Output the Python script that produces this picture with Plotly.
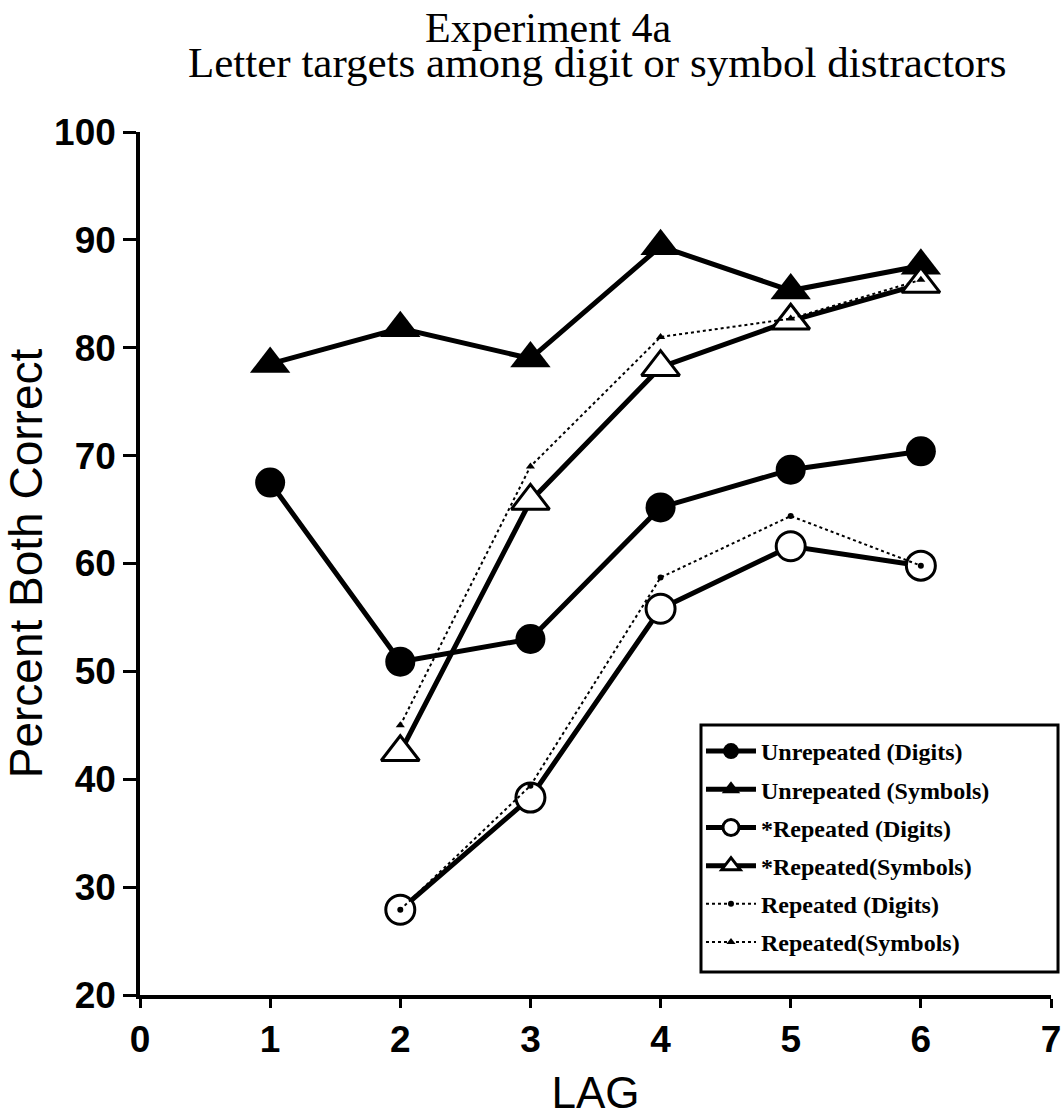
import plotly.graph_objects as go

lags = [1, 2, 3, 4, 5, 6]
lags_rep = [2, 3, 4, 5, 6]

unrep_digits = [67.5, 50.9, 53.0, 65.2, 68.7, 70.4]
unrep_symbols = [78.5, 81.8, 79.0, 89.4, 85.3, 87.6]
rep_star_digits = [27.9, 38.3, 55.8, 61.6, 59.8]
rep_star_symbols = [42.5, 65.8, 78.2, 82.5, 85.9]
rep_digits = [27.9, 39.4, 58.7, 64.4, 59.8]
rep_symbols = [45.0, 69.0, 81.0, 82.7, 86.3]

names = ["Unrepeated (Digits)", "Unrepeated (Symbols)", "*Repeated (Digits)",
         "*Repeated(Symbols)", "Repeated (Digits)", "Repeated(Symbols)"]

x_ticks = [0, 1, 2, 3, 4, 5, 6, 7]
y_ticks = [20, 30, 40, 50, 60, 70, 80, 90, 100]

fig = go.Figure()

fig.add_trace(go.Scatter(x=lags, y=unrep_digits, name=names[0], legendrank=1,
                         legendgroup="g1", mode="lines+markers",
                         line=dict(color="black", width=5),
                         marker=dict(symbol="circle", size=30, color="black")))
fig.add_trace(go.Scatter(x=lags, y=unrep_symbols, name=names[1], legendrank=2,
                         legendgroup="g2", mode="lines+markers",
                         line=dict(color="black", width=5),
                         marker=dict(symbol="triangle-up", size=35, color="black")))
fig.add_trace(go.Scatter(x=lags_rep, y=rep_star_digits, name=names[2], legendrank=3,
                         legendgroup="g3", mode="lines+markers",
                         line=dict(color="black", width=5),
                         marker=dict(symbol="circle", size=29, color="white",
                                     line=dict(color="black", width=3))))
fig.add_trace(go.Scatter(x=lags_rep, y=rep_star_symbols, name=names[3], legendrank=4,
                         legendgroup="g4", mode="lines+markers",
                         line=dict(color="black", width=5),
                         marker=dict(symbol="triangle-up", size=33, color="white",
                                     line=dict(color="black", width=3))))
# dotted series drawn on top
fig.add_trace(go.Scatter(x=lags_rep, y=rep_digits, name=names[4], legendrank=5,
                         legendgroup="g5", mode="lines+markers",
                         line=dict(color="black", width=2, dash="dot"),
                         marker=dict(symbol="circle", size=6, color="black")))
fig.add_trace(go.Scatter(x=lags_rep, y=rep_symbols, name=names[5], legendrank=6,
                         legendgroup="g6", mode="lines+markers",
                         line=dict(color="black", width=2, dash="dot"),
                         marker=dict(symbol="triangle-up", size=8, color="black")))

fig.add_annotation(text="Experiment 4a", xref="paper", yref="paper",
                   x=0.448, y=1.1205, xanchor="center", yanchor="middle",
                   showarrow=False,
                   font=dict(family="Liberation Serif", size=42, color="black"))
fig.add_annotation(text="Letter targets among digit or symbol distractors",
                   xref="paper", yref="paper",
                   x=0.502, y=1.0800, xanchor="center", yanchor="middle",
                   showarrow=False,
                   font=dict(family="Liberation Serif", size=43, color="black"))

# legend frame (page box ~701..1058 x 725..972)
fig.add_shape(type="rect", xref="paper", yref="paper",
              x0=0.6158, x1=1.0077, y0=0.0266, y1=0.3129,
              line=dict(color="black", width=3), fillcolor="rgba(0,0,0,0)", layer="above")

fig.update_layout(
    width=1063, height=1117,
    margin=dict(l=140, r=12, t=132, b=122, autoexpand=False),
    paper_bgcolor="white", plot_bgcolor="white",
    showlegend=True,
    legend=dict(x=0.6158, y=0.3083, xanchor="left", yanchor="top",
                borderwidth=0, bgcolor="rgba(255,255,255,0)",
                font=dict(family="Liberation Serif", size=24, color="black", weight="bold"),
                tracegroupgap=4, itemwidth=50),
)

fig.update_xaxes(range=[0, 7], tickvals=x_ticks, ticktext=[str(v) for v in x_ticks],
                 automargin=False,
                 showgrid=False, zeroline=False, showline=True, linecolor="black",
                 linewidth=3.5, ticks="outside", ticklen=9, tickwidth=3, tickcolor="black",
                 tickfont=dict(family="Liberation Sans", size=37, color="black", weight="bold"),
                 title=dict(text="LAG", standoff=34,
                            font=dict(family="Liberation Sans", size=44, color="black")))
fig.update_yaxes(range=[20, 100], tickvals=y_ticks, ticktext=[str(v) for v in y_ticks],
                 automargin=False,
                 showgrid=False, zeroline=False, showline=True, linecolor="black",
                 linewidth=3.5, ticks="outside", ticklen=13, tickwidth=3, tickcolor="black",
                 tickfont=dict(family="Liberation Sans", size=37, color="black", weight="bold"),
                 title=dict(text="Percent Both Correct", standoff=2,
                            font=dict(family="Liberation Sans", size=46, color="black")))

fig.write_html("out.html", config={"displayModeBar": False},
               post_script="document.body.style.margin='0';")
